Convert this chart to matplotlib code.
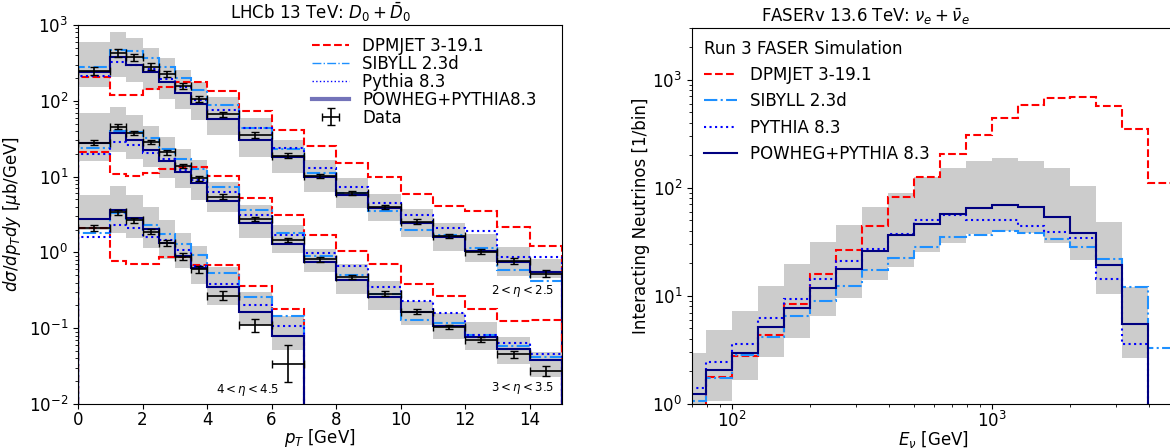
import numpy as np
import matplotlib
matplotlib.use("Agg")
import matplotlib.pyplot as plt
from matplotlib.lines import Line2D

# ---------------- LHCb D0 data / predictions ----------------
pt_edges = [0, 1, 1.5, 2, 2.5, 3, 3.5, 4, 5, 6, 7, 8, 9, 10, 11, 12, 13, 14, 15]
pt_edges_fwd = [0, 1, 1.5, 2, 2.5, 3, 3.5, 4, 5, 6, 7]

# 2 < eta < 2.5
eta2_powheg = [242, 375, 297, 242, 179, 128, 91, 57.5, 30.4, 18.3, 9.8, 5.7, 3.82, 2.42, 1.61, 1.05, 0.74, 0.556]
eta2_band_lo = [151, 208, 179, 139, 105, 77, 56, 35.4, 18.3, 11, 6.3, 3.82, 2.62, 1.58, 1.05, 0.75, 0.49, 0.46]
eta2_band_hi = [602, 816, 667, 492, 363, 255, 179, 111, 58.7, 30, 16.6, 9.5, 5.9, 3.7, 2.42, 1.75, 1.19, 0.83]
eta2_sibyll = [282, 468, 454, 363, 282, 198, 139, 88, 43.3, 23.1, 11.1, 6.1, 3.55, 1.98, 1.70, 1.13, 0.59, 0.42]
eta2_pythia = [212, 328, 297, 263, 192, 151, 102, 76, 43.3, 23.6, 13.1, 7.36, 4.53, 3.11, 2.08, 1.93, 0.86, 0.86]
eta2_dpmjet = [208, 119, 119, 142, 154, 179, 179, 135, 74, 41, 25.6, 15, 10, 5.9, 4.13, 3.55, 2.18, 1.21]
eta2_data = [250, 424, 375, 282, 226, 158, 106, 66, 35.4, 18.9, 10.2, 6.1, 3.94, 2.54, 1.64, 1.02, 0.77, 0.52]
eta2_err = [0.13, 0.13, 0.12, 0.11, 0.10, 0.09, 0.09, 0.08, 0.08, 0.08, 0.07, 0.07, 0.07, 0.07, 0.07, 0.08, 0.09, 0.11]

# 3 < eta < 3.5
eta3_powheg = [28, 37.2, 30.4, 22.4, 16.2, 11.6, 8.2, 4.81, 2.42, 1.29, 0.75, 0.43, 0.26, 0.166, 0.107, 0.076, 0.053, 0.038]
eta3_band_lo = [16, 21, 17.3, 13.2, 9.5, 7, 4.9, 3.4, 1.54, 0.97, 0.55, 0.285, 0.174, 0.11, 0.071, 0.051, 0.034, 0.023]
eta3_band_hi = [70, 82, 65, 46.4, 33.7, 23, 16.6, 8.6, 4.2, 2.3, 1.1, 0.70, 0.42, 0.23, 0.16, 0.12, 0.076, 0.048]
eta3_sibyll = [23.6, 40, 39.2, 32, 22.9, 16.9, 12.5, 7.4, 3.62, 1.79, 0.90, 0.50, 0.28, 0.128, 0.118, 0.081, 0.058, 0.042]
eta3_pythia = [19.7, 28.8, 26.1, 20.6, 16.9, 12.2, 9.0, 6.3, 3.11, 1.70, 0.97, 0.66, 0.35, 0.23, 0.157, 0.081, 0.063, 0.046]
eta3_dpmjet = [21.3, 10.7, 10.2, 11.3, 12.6, 13.5, 13.5, 10.2, 5.17, 3.11, 1.70, 1.05, 0.70, 0.38, 0.27, 0.18, 0.126, 0.13]
eta3_data = [28, 45.5, 37.9, 28.8, 20.9, 13.9, 9.5, 5.43, 2.76, 1.46, 0.81, 0.47, 0.285, 0.166, 0.103, 0.07, 0.045, 0.0275]
eta3_err = [0.08, 0.08, 0.07, 0.07, 0.07, 0.07, 0.07, 0.07, 0.07, 0.07, 0.07, 0.07, 0.07, 0.07, 0.07, 0.08, 0.10, 0.16]

# 4 < eta < 4.5
eta4_powheg = [2.73, 3.62, 2.82, 2.02, 1.32, 0.90, 0.62, 0.35, 0.166, 0.079]
eta4_band_lo = [2.0, 1.79, 1.54, 1.13, 0.83, 0.62, 0.38, 0.2, 0.11, 0.052]
eta4_band_hi = [5.7, 7.5, 5.7, 3.94, 2.67, 1.79, 1.21, 0.65, 0.30, 0.145]
eta4_sibyll = [1.82, 3.28, 2.73, 2.3, 1.75, 1.29, 0.92, 0.53, 0.255, 0.145]
eta4_pythia = [1.58, 2.3, 2.08, 1.61, 1.46, 1.08, 0.67, 0.38, 0.20, 0.107]
eta4_dpmjet = [2.08, 0.78, 0.70, 0.70, 0.88, 0.88, 0.68, 0.68, 0.36, 0.18]
eta4_data = [2.08, 3.38, 2.67, 1.87, 1.32, 0.88, 0.60, 0.27, 0.11, 0.034]
eta4_err = [0.10, 0.08, 0.08, 0.08, 0.09, 0.10, 0.11, 0.13, 0.22, 0.75]

# ---------------- FASERv neutrino spectra ----------------
e_edges = [63.1, 79.4, 100, 125.9, 158.5, 199.5, 251.2, 316.2, 398.1, 501.2, 631.0,
           794.3, 1000, 1258.9, 1584.9, 1995.3, 2511.9, 3162.3, 3981.1, 5011.9]
nu_powheg = [1.23, 2.07, 2.98, 5.2, 7.7, 11.8, 17.7, 25.9, 36.2, 46.1, 57, 64.9, 68.6, 67, 53.5, 38.5, 19.1, 5.47]
nu_band_lo = [0.5, 1.07, 1.67, 2.74, 4.06, 6.5, 9.5, 14.1, 18.4, 25.2, 30.7, 37.5, 39.4, 38, 30.7, 21.5, 10.4, 2.65]
nu_band_hi = [2.95, 4.8, 7.3, 12.3, 19.7, 31.2, 45.5, 67, 89, 125, 151, 175, 188, 175, 151, 104, 48, 12.2]
nu_pythia = [1.42, 2.46, 3.59, 6.3, 9.4, 14.3, 20.8, 27.4, 37.5, 49.8, 55.4, 50.6, 50.6, 43.8, 38.9, 34.2, 14.3, 3.59]
nu_sibyll = [1.07, 1.73, 2.84, 4.2, 6.5, 8.9, 12.3, 17.2, 22.3, 28.3, 34.7, 36.7, 39.4, 38, 33.7, 28.3, 21.9, 12.0, 3.32]
nu_dpmjet = [0.9, 1.79, 2.80, 4.35, 8.4, 15.9, 26.6, 43.8, 82, 126, 205, 310, 442, 587, 677, 686, 574, 349, 110]

FLOOR = 1e-6  # stand-in for zero on log axes


def draw_group(ax, edges, powheg, lo, hi, sibyll, pythia, dpmjet, data, err):
    e = np.array(edges)
    n_pow = len(powheg)
    ax.stairs(hi, e[:n_pow + 1], baseline=lo, fill=True, color='0.8', lw=0)
    ax.stairs(dpmjet, e[:len(dpmjet) + 1], baseline=FLOOR, color='red', ls='--', lw=1.5)
    ax.stairs(sibyll, e[:len(sibyll) + 1], baseline=FLOOR, color='dodgerblue', ls='-.', lw=1.5)
    ax.stairs(pythia, e[:len(pythia) + 1], baseline=FLOOR, color='blue', ls=':', lw=1.5)
    ax.stairs(powheg, e[:n_pow + 1], baseline=FLOOR, color='navy', ls='-', lw=1.5)
    if data is None:
        return None
    d = np.array(data)
    r = np.array(err)
    centers = (e[1:] + e[:-1]) / 2
    half = (e[1:] - e[:-1]) / 2
    yerr = [d - d / (1 + r), d * r]
    return ax.errorbar(centers, d, xerr=half, yerr=yerr, fmt='none', ecolor='k',
                       elinewidth=1.2, capsize=3, label='Data')


plt.rcParams['font.size'] = 12

fig = plt.figure(figsize=(11.7, 4.48), dpi=100)
ax1 = fig.add_axes([78 / 1170, 44 / 448, 484 / 1170, 379 / 448])
ax2 = fig.add_axes([692 / 1170, 44 / 448, 482 / 1170, 376 / 448])

# left panel
eb = draw_group(ax1, pt_edges, eta2_powheg, eta2_band_lo, eta2_band_hi, eta2_sibyll,
                eta2_pythia, eta2_dpmjet, eta2_data, eta2_err)
draw_group(ax1, pt_edges, eta3_powheg, eta3_band_lo, eta3_band_hi, eta3_sibyll,
           eta3_pythia, eta3_dpmjet, eta3_data, eta3_err)
draw_group(ax1, pt_edges_fwd, eta4_powheg, eta4_band_lo, eta4_band_hi, eta4_sibyll,
           eta4_pythia, eta4_dpmjet, eta4_data, eta4_err)

ax1.set_yscale('log')
ax1.set_xlim(0, 15)
ax1.set_ylim(1e-2, 1e3)
ax1.tick_params(axis='x', pad=1.5)
ax1.set_xlabel(r'$p_T$ [GeV]', labelpad=-1.5)
ax1.set_ylabel(r'$d\sigma/dp_T dy$ [$\mu$b/GeV]')
ax1.set_title(r'LHCb 13 TeV: $D_0 + \bar{D}_0$', fontsize=12, pad=4)
ax1.text(14.75, 0.31, r'$2 < \eta < 2.5$', fontsize=8.5, ha='right', va='center')
ax1.text(14.75, 0.0163, r'$3 < \eta < 3.5$', fontsize=8.5, ha='right', va='center')
ax1.text(6.25, 0.0152, r'$4 < \eta < 4.5$', fontsize=8.5, ha='right', va='center')

handles1 = [
    Line2D([], [], color='red', ls='--', lw=1.5),
    Line2D([], [], color='dodgerblue', ls='-.', lw=1),
    Line2D([], [], color='blue', ls=':', lw=1),
    Line2D([], [], color='navy', lw=3, alpha=0.55),
    eb,
]
labels1 = ['DPMJET 3-19.1', 'SIBYLL 2.3d', 'Pythia 8.3', 'POWHEG+PYTHIA8.3', 'Data']
ax1.legend(handles1, labels1, loc='upper left', bbox_to_anchor=(0.46, 1.0), frameon=False,
           labelspacing=0.0, handlelength=2.2, handletextpad=0.8, borderaxespad=0.3)

# right panel
draw_group(ax2, e_edges, nu_powheg, nu_band_lo, nu_band_hi, nu_sibyll,
           nu_pythia, nu_dpmjet, None, None)
ax2.set_xscale('log')
ax2.set_yscale('log')
ax2.set_xlim(70, 5011.9)
ax2.set_ylim(1, 3000)
ax2.tick_params(axis='x', pad=1.5)
ax2.set_xlabel(r'$E_\nu$ [GeV]', labelpad=-1.5)
ax2.set_ylabel('Interacting Neutrinos [1/bin]', labelpad=2)
ax2.set_title(r'FASERv 13.6 TeV: $\nu_e + \bar{\nu}_e$', fontsize=12, pad=4, x=0.36)

handles2 = [
    Line2D([], [], color='red', ls='--', lw=1.5),
    Line2D([], [], color='dodgerblue', ls='-.', lw=1.5),
    Line2D([], [], color='blue', ls=':', lw=1.5),
    Line2D([], [], color='navy', lw=1.5),
]
labels2 = ['DPMJET 3-19.1', 'SIBYLL 2.3d', 'PYTHIA 8.3', 'POWHEG+PYTHIA 8.3']
leg2 = ax2.legend(handles2, labels2, loc='upper left', frameon=False, title='Run 3 FASER Simulation',
                  title_fontsize=12, alignment='left', borderaxespad=0.3)

fig.savefig('out.png', dpi=100)
